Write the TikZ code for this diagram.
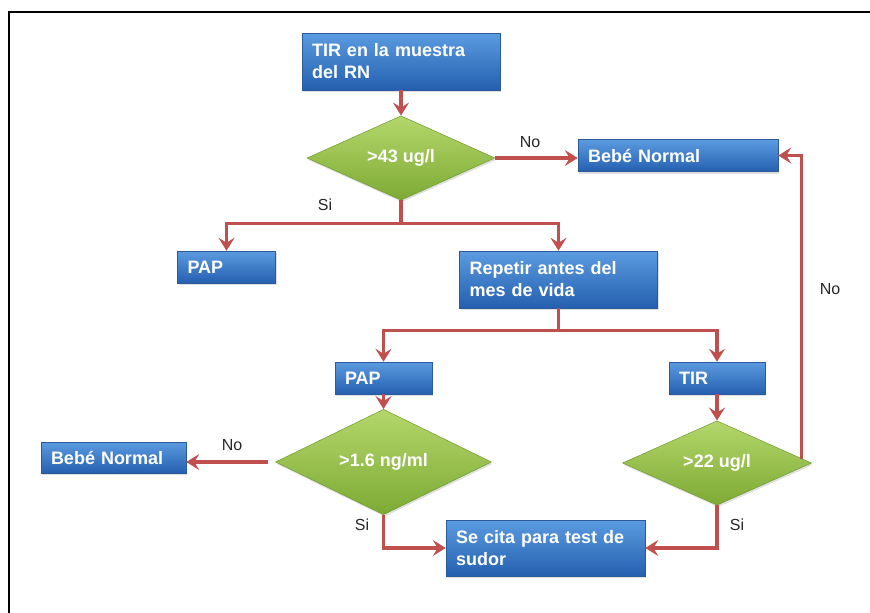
\documentclass[tikz,border=0pt]{standalone}
\usepackage{fontspec}
\setmainfont{Liberation Sans}
\usetikzlibrary{shapes.geometric,arrows.meta,shadows}
\definecolor{boxtop}{HTML}{5B9BE0}
\definecolor{boxbot}{HTML}{2560B0}
\definecolor{boxedge}{HTML}{2A5A9A}
\definecolor{diatop}{HTML}{B4D76B}
\definecolor{diabot}{HTML}{7DAA34}
\definecolor{diaedge}{HTML}{6E9A30}
\definecolor{flowred}{HTML}{C0504D}
\begin{document}
\begin{tikzpicture}[x=1pt,y=-1pt,
    box/.style 2 args={rectangle, draw=boxedge, line width=0.5pt,
      top color=boxtop, bottom color=boxbot, text=white,
      font=\bfseries\fontsize{18}{22}\selectfont, inner xsep=10pt, inner ysep=0pt,
      align=left, text width=#1, minimum height=#2,
      drop shadow={opacity=0.25, shadow xshift=1pt, shadow yshift=-2pt}},
    dia/.style 2 args={diamond, draw=diaedge, line width=0.5pt,
      top color=diatop, bottom color=diabot, text=white,
      font=\bfseries\fontsize{18}{22}\selectfont, inner sep=0pt,
      minimum width=#1, minimum height=#2,
      drop shadow={opacity=0.25, shadow xshift=1pt, shadow yshift=-2pt}},
    link/.style={draw=flowred, line width=3.2pt},
    flow/.style={link, -{Stealth[length=13pt,width=16pt,inset=5pt]}},
    lbl/.style={font=\fontsize{16}{18}\selectfont, text=black!85}]
  \useasboundingbox (0,0) rectangle (870,613);
  \draw[line width=2.5pt] (870,12) -- (9,12) -- (9,613);

  % boxes
  \node[box={178pt}{57pt}] (muestra) at (401,61.5) {TIR en la muestra\\del RN};
  \node[box={180pt}{32pt}] (normalA) at (678,155.5) {Bebé Normal};
  \node[box={78pt}{32pt}] (papA) at (226.5,267) {PAP};
  \node[box={178pt}{57pt}] (repetir) at (558.5,279.5) {Repetir antes del\\mes de vida};
  \node[box={77pt}{32pt}] (papB) at (383.5,378) {PAP};
  \node[box={76pt}{32pt}] (tir) at (717,378) {TIR};
  \node[box={125pt}{31pt}] (normalB) at (113.5,457.5) {Bebé Normal};
  \node[box={179pt}{56pt}] (cita) at (545.5,548) {Se cita para test de\\sudor};

  % decisions
  \node[dia={188pt}{82pt}] (tirA) at (401,158) {>43 ug/l};
  \node[dia={216pt}{79pt}] (papC) at (383.5,462) {>1.6 ng/ml};
  \node[dia={189pt}{78pt}] (tirB) at (717,463) {>22 ug/l};

  % connectors
  \draw[flow] (muestra.south) -- (tirA.north);
  \draw[flow] (tirA.east) -- (tirA.east -| normalA.west);
  \draw[link] (tirA.south) -- ++(0,23) coordinate (splitA);
  \draw[flow] (splitA) -| (papA.north);
  \draw[flow] (splitA) -| (repetir.north);
  \draw[link] (repetir.south) -- ++(0,22) coordinate (splitB);
  \draw[flow] (splitB) -| (papB.north);
  \draw[flow] (splitB) -| (tir.north);
  \draw[flow] (papB.south) -- (papC.north);
  \draw[flow] (tir.south) -- (tirB.north);
  \draw[flow, shorten <=7pt] (papC.west) -- (papC.west -| normalB.east);
  \draw[flow] (papC.south) |- (cita.west);
  \draw[flow] (tirB.south) |- (cita.east);
  \draw[flow] ([shift={(-10pt,4pt)}]tirB.east) |- (normalA.east);

  % labels
  \node[lbl] (noA) at (530,142) {No};
  \node[lbl] (siA) at (325,205) {Si};
  \node[lbl] (noB) at (830,289) {No};
  \node[lbl] (noC) at (232,445) {No};
  \node[lbl] (siB) at (362,525) {Si};
  \node[lbl] (siC) at (737,525) {Si};
\end{tikzpicture}
\end{document}
